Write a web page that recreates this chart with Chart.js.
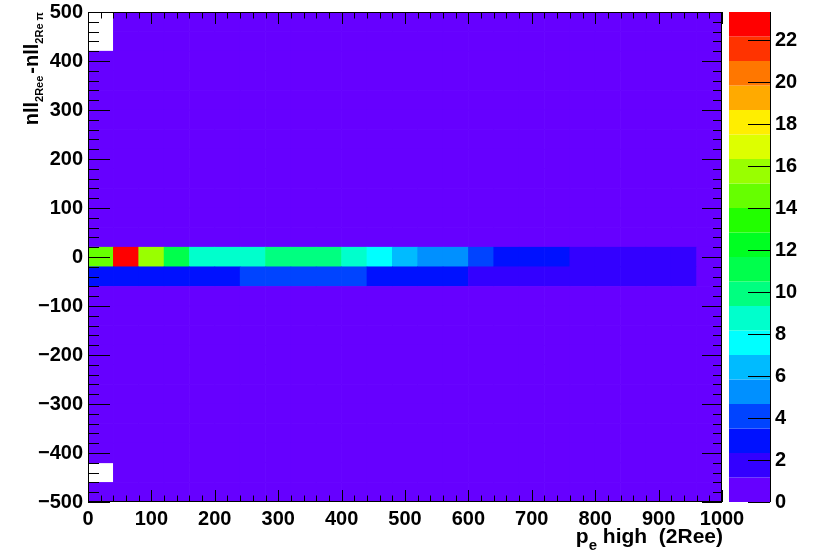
<!DOCTYPE html>
<html>
<head>
<meta charset="utf-8">
<script src="https://cdn.jsdelivr.net/npm/chart.js@4.4.1/dist/chart.umd.min.js"></script>
<style>
  html, body { margin: 0; background: #fff; }
  canvas { display: block; }
</style>
</head>
<body>
<canvas id="hist" width="815" height="556"></canvas>
<script>
// 2D histogram: p_e high (2Ree) vs nll difference, 25 x 25 bins
const xEdges = [0, 40, 80, 120, 160, 200, 240, 280, 320, 360, 400, 440, 480, 520, 560, 600, 640, 680, 720, 760, 800, 840, 880, 920, 960, 1000];
const yEdges = [-500, -460, -420, -380, -340, -300, -260, -220, -180, -140, -100, -60, -20, 20, 60, 100, 140, 180, 220, 260, 300, 340, 380, 420, 460, 500];

// bin contents of the two populated rows
const countsNearZero = [15, 23.35, 16, 11, 9, 9, 9, 10, 10, 10, 9, 7.5, 6.5, 5, 5, 4, 3, 3, 3, 2, 2, 2, 2, 2, 0.5]; // y in [-20, 20]
const countsBelowZero = [3, 3, 3, 3, 3, 3, 4, 4, 4, 4, 4, 3, 3, 3, 3, 2, 2, 2, 2, 2, 2, 2, 2, 2, 0.5]; // y in [-60, -20]
const baseCount = 0.5;   // every other filled bin
const emptyBins = [[0, 420], [0, 460], [0, -460]]; // lower edges (x, y) of empty bins

const zTicks = [0, 2, 4, 6, 8, 10, 12, 14, 16, 18, 20, 22];
const paletteColors = ['#6600ff', '#3300ff', '#0011ff', '#0044ff', '#0090ff', '#00bbff', '#00ffff', '#00ffcc', '#00ff80', '#00ff4c',
                       '#00ff22', '#22ff00', '#66ff00', '#99ff00', '#ddff00', '#ffee00', '#ffaa00', '#ff7700', '#ff3300', '#ff0000'];

const zMax = Math.max(...countsNearZero, ...countsBelowZero);
const zStep = zMax / paletteColors.length;
const binColor = z => paletteColors[Math.min(paletteColors.length - 1, Math.floor(z / zStep))];

const FONT = '"Liberation Sans", Arial, Helvetica, sans-serif';

const datasets = [];
for (let j = 0; j < yEdges.length - 1; j++) {
  const y0 = yEdges[j], y1 = yEdges[j + 1];
  const row = y0 === -20 ? countsNearZero : y0 === -60 ? countsBelowZero : null;
  const data = [];
  for (let i = 0; i < xEdges.length - 1; i++) {
    if (emptyBins.some(([ex, ey]) => ex === xEdges[i] && ey === y0)) continue;
    data.push({ x: (xEdges[i] + xEdges[i + 1]) / 2, y: [y0, y1], z: row ? row[i] : baseCount });
  }
  datasets.push({
    data,
    backgroundColor: c => binColor(c.raw.z),
    borderWidth: 0,
    grouped: false,
    barPercentage: 1,
    categoryPercentage: 1
  });
}

// text with subscripts, drawn right-aligned ending at x = 0
function richText(ctx, parts) {
  let w = 0;
  parts.forEach(p => {
    ctx.font = 'bold ' + p.size + 'px ' + FONT;
    p.w = ctx.measureText(p.t).width + (p.gap || 0);
    w += p.w;
  });
  let x = -w;
  parts.forEach(p => {
    ctx.font = 'bold ' + p.size + 'px ' + FONT;
    ctx.fillText(p.t, x, p.dy || 0);
    x += p.w;
  });
}

const framePlugin = {
  id: 'framePlugin',
  afterDraw(chart) {
    const ctx = chart.ctx;
    const a = chart.chartArea;
    const xs = chart.scales.x, ys = chart.scales.y, zs = chart.scales.z;
    ctx.save();
    ctx.strokeStyle = '#000';
    ctx.lineWidth = 1;

    // ticks on all four sides, pointing inward
    ctx.beginPath();
    for (let v = 0; v <= 1000; v += 20) {
      const px = Math.round(xs.getPixelForValue(v)) + 0.5;
      const major = v % 100 === 0;
      ctx.moveTo(px, a.bottom); ctx.lineTo(px, a.bottom - (major ? 12 : 6.5));
      ctx.moveTo(px, a.top); ctx.lineTo(px, a.top + (major ? 12 : 6.5));
    }
    for (let v = -500; v <= 500; v += 20) {
      const py = Math.round(ys.getPixelForValue(v)) + 0.5;
      const major = v % 100 === 0;
      ctx.moveTo(a.left, py); ctx.lineTo(a.left + (major ? 22 : 11), py);
      ctx.moveTo(a.right, py); ctx.lineTo(a.right - (major ? 20 : 9), py);
    }
    ctx.stroke();
    ctx.strokeRect(Math.round(a.left) + 0.5, Math.round(a.top) + 0.5, Math.round(a.right - a.left) - 1, Math.round(a.bottom - a.top) - 1);

    // colour palette
    const barL = 729, barR = 770;
    paletteColors.forEach((c, k) => {
      const yb = zs.getPixelForValue(k * zStep);
      const yt = zs.getPixelForValue((k + 1) * zStep);
      ctx.fillStyle = c;
      ctx.fillRect(barL, yt, barR - barL, yb - yt);
    });
    ctx.beginPath();
    ctx.moveTo(barR + 0.5, zs.top); ctx.lineTo(barR + 0.5, zs.bottom);
    zTicks.forEach(v => {
      const py = Math.round(zs.getPixelForValue(v)) + 0.5;
      ctx.moveTo(barR, py); ctx.lineTo(barR - 22, py);
    });
    ctx.stroke();

    // axis titles
    ctx.fillStyle = '#000';
    ctx.textBaseline = 'alphabetic';
    ctx.textAlign = 'left';
    ctx.save();
    ctx.translate(723, 543);
    richText(ctx, [
      { t: 'p', size: 21 }, { t: 'e', size: 15, dy: 7 }, { t: ' high  (2Ree)', size: 21 }
    ]);
    ctx.restore();

    ctx.save();
    ctx.translate(38, 12);
    ctx.rotate(-Math.PI / 2);
    richText(ctx, [
      { t: 'nll', size: 20 }, { t: '2Ree', size: 11, dy: 5, gap: 2 }, { t: '-nll', size: 20 }, { t: '2Re \u03c0', size: 11, dy: 5 }
    ]);
    ctx.restore();
    ctx.restore();
  }
};

const minus = v => (v < 0 ? '\u2212' + Math.abs(v) : String(v));
// keep the plot frame where the layout padding puts it
const noPad = s => { s.paddingTop = s.paddingBottom = s.paddingLeft = s.paddingRight = 0; };

new Chart(document.getElementById('hist'), {
  type: 'bar',
  data: { datasets },
  options: {
    responsive: false,
    animation: false,
    layout: { padding: { top: 12, left: 0, right: 0, bottom: 0 } },
    plugins: { legend: { display: false }, tooltip: { enabled: false } },
    scales: {
      x: {
        type: 'linear',
        min: 0,
        max: 1000,
        offset: false,
        grid: { display: false, drawTicks: false },
        border: { display: false },
        afterFit: s => { noPad(s); s.height = 54; },
        ticks: {
          stepSize: 100,
          autoSkip: false,
          maxRotation: 0,
          padding: 5,
          color: '#000',
          callback: v => String(v),
          font: { family: FONT, size: 20, weight: 'bold' }
        }
      },
      y: {
        type: 'linear',
        min: -500,
        max: 500,
        grid: { display: false, drawTicks: false },
        border: { display: false },
        afterFit: s => { noPad(s); s.width = 88; },
        ticks: {
          stepSize: 100,
          autoSkip: false,
          padding: 5,
          color: '#000',
          callback: v => minus(v),
          font: { family: FONT, size: 20, weight: 'bold' }
        }
      },
      z: {
        type: 'linear',
        position: 'right',
        min: 0,
        max: zMax,
        grid: { display: false, drawTicks: false },
        border: { display: false },
        afterFit: s => { noPad(s); s.width = 93; },
        afterBuildTicks: s => { s.ticks = zTicks.map(v => ({ value: v })); },
        ticks: {
          autoSkip: false,
          padding: 53,
          color: '#000',
          font: { family: FONT, size: 20, weight: 'bold' }
        }
      }
    }
  },
  plugins: [framePlugin]
});
</script>
</body>
</html>
